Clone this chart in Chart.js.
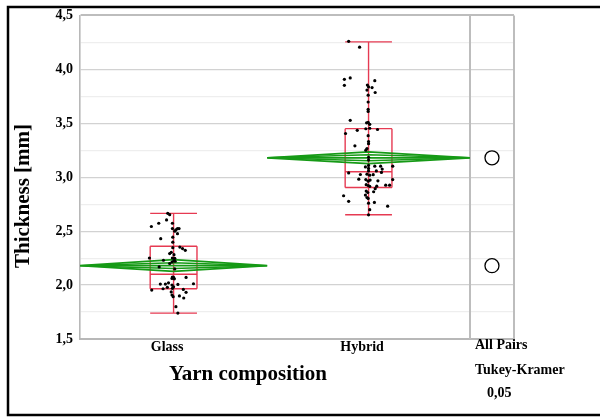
<!DOCTYPE html>
<html lang="en">
<head>
<meta charset="UTF-8">
<title>Thickness by yarn composition</title>
<style>
  html, body { margin: 0; padding: 0; background: #fff; }
  #wrap { width: 600px; height: 417px; }
</style>
<script src="https://cdn.jsdelivr.net/npm/chart.js"></script>
</head>
<body>
<div id="wrap"><canvas id="chart" width="600" height="417"></canvas></div>
<script>
// Categories and per-group width share (sample size) on the x axis
const categories = ['Glass', 'Hybrid'];
const groupSize = [48, 52];

// Means diamonds (mean and 95% CI)
const meanVals = [2.18, 3.18];
const ciLow = [2.126, 3.125];
const ciHigh = [2.235, 3.235];

// Box plots
const whiskerLow = [1.74, 2.652];
const q1 = [1.966, 2.905];
const medianVals = [2.10, 3.05];
const q3 = [2.36, 3.45];
const whiskerHigh = [2.665, 4.255];

// Raw observations: jitter offset (x units from group centre) and thickness [mm]
const glassOffset = [-1.5, -1.0, -5.7, -3.8, -1.8, -3.3, -0.3, -0.3, 0.3, 1.0, 0.6, 1.4, 1.0, -0.2, -0.2,
  1.6, 2.3, 3.0, -0.2, -1.0, -0.6, 0.1, -6.2, -0.3, 0.3, 0.1, -0.4, -2.6, -3.7, -1.0, 0.4, 0.3,
  -0.3, 0.0, -0.4, 0.2, 3.2, -3.4, -2.1, -1.3, 1.1, 5.1, -0.4, 0.0, -0.3, -5.6, -2.7, -1.6, 2.5,
  3.2, -0.6, -0.4, -0.1, 1.5, 2.6, 0.6, 1.1];
const glassThick = [2.665, 2.653, 2.543, 2.573, 2.604, 2.430, 2.573, 2.524, 2.500, 2.524, 2.512, 2.524, 2.476, 2.444, 2.398,
  2.352, 2.338, 2.322, 2.347, 2.292, 2.304, 2.282, 2.251, 2.251, 2.248, 2.227, 2.214, 2.230, 2.168, 2.200, 2.221, 2.150,
  2.074, 2.071, 2.062, 2.058, 2.071, 2.009, 2.009, 2.021, 2.006, 2.012, 2.000, 1.984, 1.970, 1.954, 1.966, 1.979, 1.960,
  1.933, 1.936, 1.908, 1.892, 1.899, 1.880, 1.800, 1.740];

const hybridOffset = [-5.1, -2.3, -6.2, -4.7, -6.2, 1.6, -0.3, 0.0, -0.4, 0.9, 1.7, -0.1, -0.1, -0.1, -0.1,
  -4.7, -0.5, -0.1, 0.3, -2.9, -0.7, 0.3, 2.3, -5.9, -0.1, 0.0, 0.0, -3.5, -0.4, -0.7, 0.0, 0.0,
  0.0, 0.0, 0.0, -0.8, 1.6, 3.1, 2.0, 3.5, 6.2, 3.3, -5.1, -2.1, -0.4, 0.3, 1.2, -2.5, -0.7,
  -0.1, 0.4, 2.4, 6.2, -0.6, -0.1, 0.3, 2.1, 4.4, 5.4, 1.7, -0.6, -0.2, -0.8, -0.4, -0.1, 1.3,
  -6.4, -5.1, 1.5, 0.0, 4.9, 0.3, 0.0];
const hybridThick = [4.260, 4.205, 3.907, 3.920, 3.852, 3.895, 3.854, 3.837, 3.808, 3.831, 3.785, 3.760, 3.697, 3.630, 3.610,
  3.527, 3.504, 3.509, 3.490, 3.435, 3.449, 3.454, 3.442, 3.405, 3.385, 3.331, 3.311, 3.291, 3.265, 3.251, 3.184, 3.159,
  3.109, 3.081, 3.058, 3.095, 3.102, 3.102, 3.058, 3.075, 3.102, 3.044, 3.040, 3.025, 3.028, 3.019, 3.023, 2.982, 2.978,
  2.963, 2.973, 2.966, 2.978, 2.931, 2.923, 2.915, 2.917, 2.926, 2.926, 2.894, 2.871, 2.858, 2.834, 2.812, 2.803, 2.865,
  2.828, 2.776, 2.766, 2.759, 2.731, 2.699, 2.651];

// Axis
const yMin = 1.5, yMax = 4.5, yStep = 0.25;
const panelWidth = 11.3;   // comparison-circles panel, in x units
const boxHalf = 6;

const serif = '"Liberation Serif", "Times New Roman", serif';
const red = '#e63a52';
const green = '#169a16';

const total = groupSize[0] + groupSize[1];
const starts = [0, groupSize[0]];
const centers = groupSize.map((n, i) => starts[i] + n / 2);

function segData(segs) {
  const out = [];
  segs.forEach(s => {
    out.push({ x: s[0], y: s[1] }, { x: s[2], y: s[3] }, { x: s[2], y: null });
  });
  return out;
}

const boxSegs = [];
centers.forEach((c, i) => {
  const l = c - boxHalf, r = c + boxHalf;
  boxSegs.push([c, whiskerLow[i], c, whiskerHigh[i]]);
  boxSegs.push([l, whiskerLow[i], r, whiskerLow[i]]);
  boxSegs.push([l, whiskerHigh[i], r, whiskerHigh[i]]);
  boxSegs.push([l, q1[i], r, q1[i]]);
  boxSegs.push([l, q3[i], r, q3[i]]);
  boxSegs.push([l, medianVals[i], r, medianVals[i]]);
  boxSegs.push([l, q1[i], l, q3[i]]);
  boxSegs.push([r, q1[i], r, q3[i]]);
});

const diamondSegs = [];
const innerSegs = [];
centers.forEach((c, i) => {
  const l = starts[i], r = starts[i] + groupSize[i];
  const m = meanVals[i];
  diamondSegs.push([l, m, c, ciHigh[i]], [c, ciHigh[i], r, m], [r, m, c, ciLow[i]], [c, ciLow[i], l, m], [l, m, r, m]);
  const hi = m + (ciHigh[i] - m) * 0.5, lo = m - (m - ciLow[i]) * 0.5;
  innerSegs.push([l, m, c, hi], [c, hi, r, m], [r, m, c, lo], [c, lo, l, m]);
});

const points = [];
glassOffset.forEach((d, k) => points.push({ x: centers[0] + d, y: glassThick[k] }));
hybridOffset.forEach((d, k) => points.push({ x: centers[1] + d, y: hybridThick[k] }));

const circles = meanVals.map(m => ({ x: total + panelWidth / 2, y: m }));

const isMajor = v => Math.abs(v * 2 - Math.round(v * 2)) < 1e-6;

const overlay = {
  id: 'overlay',
  beforeDatasetsDraw(chart) {
    const { ctx, scales: { x, y } } = chart;
    ctx.save();
    ctx.strokeStyle = '#bdbdbd';
    ctx.lineWidth = 2;
    [total, total + panelWidth].forEach(v => {
      const px = Math.round(x.getPixelForValue(v));
      ctx.beginPath(); ctx.moveTo(px, y.top); ctx.lineTo(px, y.bottom); ctx.stroke();
    });
    ctx.restore();
  },
  afterDraw(chart) {
    const { ctx } = chart;
    ctx.save();
    ctx.fillStyle = '#000';
    ctx.font = 'bold 21px ' + serif;
    ctx.textAlign = 'center';
    ctx.textBaseline = 'alphabetic';
    ctx.fillText('Yarn composition', 248, 380);
    ctx.save();
    ctx.translate(29, 196);
    ctx.rotate(-Math.PI / 2);
    ctx.fillText('Thickness [mm]', 0, 0);
    ctx.restore();
    ctx.font = 'bold 14px ' + serif;
    ctx.textAlign = 'left';
    ctx.fillText('All Pairs', 475, 348.5);
    ctx.fillText('Tukey-Kramer', 475, 374);
    ctx.fillText('0,05', 487, 397);
    ctx.strokeStyle = '#000';
    ctx.lineWidth = 2.5;
    ctx.strokeRect(8, 7, 600, 408);
    ctx.restore();
  }
};

new Chart(document.getElementById('chart'), {
  type: 'scatter',
  data: {
    datasets: [
      {
        data: points, pointRadius: 1.6, pointBackgroundColor: '#000', pointBorderWidth: 0, showLine: false
      },
      {
        data: circles, pointRadius: 7, pointBackgroundColor: '#fff', pointBorderColor: '#000', pointBorderWidth: 1.3, showLine: false
      },
      {
        data: segData(diamondSegs), showLine: true, spanGaps: false, borderColor: green, borderWidth: 1.8, pointRadius: 0
      },
      {
        data: segData(innerSegs), showLine: true, spanGaps: false, borderColor: green, borderWidth: 1.5, pointRadius: 0
      },
      {
        data: segData(boxSegs), showLine: true, spanGaps: false, borderColor: red, borderWidth: 1.4, pointRadius: 0
      }
    ]
  },
  options: {
    responsive: false,
    animation: false,
    events: [],
    layout: { padding: { left: 0, right: 86, top: 13, bottom: 0 } },
    plugins: { legend: { display: false }, tooltip: { enabled: false } },
    scales: {
      x: {
        type: 'linear',
        min: 0,
        max: total + panelWidth,
        afterFit(scale) { scale.height = 78; },
        afterBuildTicks(scale) { scale.ticks = centers.map(v => ({ value: v })); },
        grid: { display: false, drawTicks: false },
        border: { display: true, color: '#b8b8b8', width: 2 },
        ticks: {
          padding: 0,
          labelOffset: -6.5,
          color: '#000',
          font: { family: serif, size: 14, weight: 'bold' },
          callback: (v, idx) => categories[idx]
        }
      },
      y: {
        min: yMin,
        max: yMax,
        afterFit(scale) { scale.width = 80; },
        ticks: {
          stepSize: yStep,
          padding: 7,
          color: '#000',
          font: { family: serif, size: 14, weight: 'bold' },
          callback: v => isMajor(v) ? v.toFixed(1).replace('.', ',') : ''
        },
        grid: {
          drawTicks: false,
          color: c => c.tick.value === yMax ? '#bdbdbd' : (isMajor(c.tick.value) ? '#d2d2d2' : '#eeeeee'),
          lineWidth: c => c.tick.value === yMax ? 2 : 1.2
        },
        border: { display: true, color: '#b8b8b8', width: 1.6 }
      }
    }
  },
  plugins: [overlay]
});
</script>
</body>
</html>
